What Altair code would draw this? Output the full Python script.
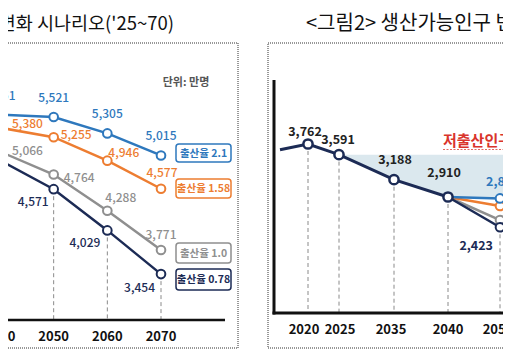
import altair as alt
import pandas as pd

# ---------------- data (만명) ----------------
# left panel: total population scenarios
left_years = [2040, 2050, 2060, 2070]
left_tfr_21 = [5551, 5521, 5305, 5015]
left_tfr_158 = [5380, 5255, 4946, 4577]
left_tfr_10 = [5066, 4764, 4288, 3771]
left_tfr_078 = [4950, 4571, 4029, 3454]
left_tick_years = [2040, 2050, 2060, 2070]

# right panel: working-age population
right_main_years = [2015, 2020, 2025, 2035, 2040]
right_main_values = [3670, 3762, 3591, 3188, 2910]
right_marker_years = [2020, 2025, 2035, 2040]
right_branch_years = [2040, 2050, 2060]
right_tfr_21 = [2910, 2887, 2870]
right_tfr_158 = [2910, 2765, 2580]
right_tfr_10 = [2910, 2540, 2000]
right_tfr_078 = [2910, 2423, 1870]
right_tick_years = [2020, 2025, 2035, 2040, 2050]
gap_base_value = 3591

series_names = ["출산율 2.1", "출산율 1.58", "출산율 1.0", "출산율 0.78"]
left_title = "〈그림1〉 총인구 변화 시나리오('25~70)"
right_title = "<그림2> 생산가능인구 변화 시나리오"
unit_text = "단위: 만명"
gap_text = "저출산인구감소"

# ---------------- styling ----------------
BLUE, ORANGE, GRAY, NAVY = "#2e78bd", "#ed7d31", "#8f8f8f", "#1c2b55"
colors = [BLUE, ORANGE, GRAY, NAVY]
FONT = "Noto Sans CJK KR"
M = 8  # page margin


def P(v):
    return v - M


LX = alt.Scale(domain=[2040, 2070], range=[P(0), P(161)], nice=False, zero=False)
LY = alt.Scale(domain=[3000, 6000], range=[P(308.6), P(80.6)], nice=False, zero=False)
RX = alt.Scale(domain=[2015, 2020, 2025, 2035, 2040, 2050, 2060],
               range=[P(280), P(308), P(339), P(394), P(448), P(500), P(552)],
               nice=False, zero=False)
RY = alt.Scale(domain=[1500, 4000], range=[P(284.7), P(129.2)], nice=False, zero=False)

one = pd.DataFrame({"a": [0]})
layers = []


def rect(x1, x2, y1, y2, **kw):
    return alt.Chart(one).mark_rect(**kw).encode(
        x=alt.value(P(x1)), x2=alt.value(P(x2)), y=alt.value(P(y1)), y2=alt.value(P(y2)))


def hrule(x1, x2, y, **kw):
    return alt.Chart(one).mark_rule(**kw).encode(
        x=alt.value(P(x1)), x2=alt.value(P(x2)), y=alt.value(P(y)))


def vrule(x, y1, y2, **kw):
    return alt.Chart(one).mark_rule(**kw).encode(
        x=alt.value(P(x)), y=alt.value(P(y1)), y2=alt.value(P(y2)))


def note(text, x, y, **kw):
    return alt.Chart(pd.DataFrame({"t": [text]})).mark_text(font=FONT, **kw).encode(
        x=alt.value(P(x)), y=alt.value(P(y)), text="t:N")


def series_df(years, values):
    return pd.DataFrame({"year": years, "value": values})


# dotted frames
layers.append(rect(0, 238, 43, 348, fillOpacity=0, stroke="#333", strokeWidth=1, strokeDash=[1, 1]))
layers.append(rect(268, 620, 43, 348, fillOpacity=0, stroke="#333", strokeWidth=1, strokeDash=[1, 1]))

# ---------------- right panel ----------------
gap_years = right_main_years[2:] + right_branch_years[1:]
gap_low = right_main_values[2:] + right_tfr_21[1:]
gap_df = pd.DataFrame({"year": gap_years, "low": gap_low, "top": [gap_base_value] * len(gap_years)})
layers.append(alt.Chart(gap_df).mark_area(color="#dbe8ee").encode(
    x=alt.X("year:Q", scale=RX, axis=None),
    y=alt.Y("top:Q", scale=RY, axis=None),
    y2="low:Q"))

# dashed guides (right)
r_guides = pd.DataFrame({
    "year": right_marker_years + [right_branch_years[1]],
    "value": [right_main_values[right_main_years.index(y)] for y in right_marker_years] + [right_tfr_078[1]],
})
layers.append(alt.Chart(r_guides).mark_rule(color="#8a8a8a", strokeDash=[4, 3], strokeWidth=1).encode(
    x=alt.X("year:Q", scale=RX, axis=None),
    y=alt.Y("value:Q", scale=RY, axis=None),
    y2=alt.value(P(313))))

# right axes
layers.append(vrule(274, 80, 314.5, color="#111", strokeWidth=3))
layers.append(hrule(272.5, 620, 313, color="#111", strokeWidth=3))

# branches (right)
for vals, c in zip([right_tfr_10, right_tfr_158, right_tfr_21, right_tfr_078], [GRAY, ORANGE, BLUE, NAVY]):
    d = series_df(right_branch_years, vals)
    layers.append(alt.Chart(d).mark_line(color=c, strokeWidth=2.5).encode(
        x=alt.X("year:Q", scale=RX, axis=None), y=alt.Y("value:Q", scale=RY, axis=None)))
    layers.append(alt.Chart(d.iloc[1:2]).mark_point(shape="circle", filled=True, fill="white", stroke=c,
                                                    strokeWidth=2, size=75, opacity=1).encode(
        x=alt.X("year:Q", scale=RX, axis=None), y=alt.Y("value:Q", scale=RY, axis=None)))

# main line (right)
main_df = series_df(right_main_years, right_main_values)
layers.append(alt.Chart(main_df).mark_line(color=NAVY, strokeWidth=3).encode(
    x=alt.X("year:Q", scale=RX, axis=None), y=alt.Y("value:Q", scale=RY, axis=None)))
layers.append(alt.Chart(main_df[main_df.year.isin(right_marker_years)]).mark_point(
    shape="circle", filled=True, fill="white", stroke=NAVY, strokeWidth=2.5, size=85, opacity=1).encode(
    x=alt.X("year:Q", scale=RX, axis=None), y=alt.Y("value:Q", scale=RY, axis=None)))

# right value labels
r_label_style = [(-3, -12, "center"), (-1, -15, "center"), (1, -20, "center"), (-4, -24, "center")]
for yr, (dx, dy, al) in zip(right_marker_years, r_label_style):
    d = main_df[main_df.year == yr]
    layers.append(alt.Chart(d).mark_text(font=FONT, fontSize=12.5, fontWeight="bold", color="#222",
                                         dx=dx, dy=dy, align=al).encode(
        x=alt.X("year:Q", scale=RX, axis=None), y=alt.Y("value:Q", scale=RY, axis=None),
        text=alt.Text("value:Q", format=",")))
for vals, c, (dx, dy, al) in [(right_tfr_21, BLUE, (-14, -16, "left")), (right_tfr_078, NAVY, (-7, 19, "right"))]:
    d = series_df(right_branch_years, vals).iloc[1:2]
    layers.append(alt.Chart(d).mark_text(font=FONT, fontSize=12.5, fontWeight="bold", color=c,
                                         dx=dx, dy=dy, align=al).encode(
        x=alt.X("year:Q", scale=RX, axis=None), y=alt.Y("value:Q", scale=RY, axis=None),
        text=alt.Text("value:Q", format=",")))

# right tick labels
r_tick_dx = [-4, 1, -3, 0, -2]
for yr, dx in zip(right_tick_years, r_tick_dx):
    layers.append(alt.Chart(pd.DataFrame({"year": [yr]})).mark_text(
        font=FONT, fontSize=13, fontWeight="bold", color="#111", dx=dx).encode(
        x=alt.X("year:Q", scale=RX, axis=None), y=alt.value(P(330)), text="year:N"))

# gap annotation
layers.append(note(gap_text, 443, 141, fontSize=15, fontWeight="bold", color="#d9342b", align="left"))
layers.append(hrule(443, 520, 149.5, color="#e06a60", strokeWidth=1.2, strokeDash=[2, 1.5]))

# ---------------- left panel ----------------
left_sets = [left_tfr_21, left_tfr_158, left_tfr_10, left_tfr_078]

# dashed guides (left) from the lowest series
layers.append(alt.Chart(series_df(left_years, left_tfr_078)).mark_rule(
    color="#8a8a8a", strokeDash=[4, 3], strokeWidth=1).encode(
    x=alt.X("year:Q", scale=LX, axis=None), y=alt.Y("value:Q", scale=LY, axis=None),
    y2=alt.value(P(320))))

# left axis line
layers.append(hrule(0, 225, 320, color="#111", strokeWidth=2.5))

for vals, c in zip(left_sets, colors):
    d = series_df(left_years, vals)
    layers.append(alt.Chart(d).mark_line(color=c, strokeWidth=2.5).encode(
        x=alt.X("year:Q", scale=LX, axis=None), y=alt.Y("value:Q", scale=LY, axis=None)))
    layers.append(alt.Chart(d).mark_point(shape="circle", filled=True, fill="white", stroke=c,
                                          strokeWidth=2, size=75, opacity=1).encode(
        x=alt.X("year:Q", scale=LX, axis=None), y=alt.Y("value:Q", scale=LY, axis=None)))

left_label_style = [
    [(0, -19, "center")] * 4,
    [(12, -4, "left"), (7, -2, "left"), (1, -8, "left"), (1, -16, "center")],
    [(12, -1, "left"), (10, 3, "left"), (-2, -13, "left"), (0, -15, "center")],
    [(-6, 12, "right"), (-5, 13, "right"), (-7, 13, "right"), (-6, 14, "right")],
]
for vals, c, styles in zip(left_sets, colors, left_label_style):
    d = series_df(left_years, vals)
    for i, (dx, dy, al) in enumerate(styles):
        layers.append(alt.Chart(d.iloc[i:i + 1]).mark_text(
            font=FONT, fontSize=12, fontWeight=500, color=c, dx=dx, dy=dy, align=al).encode(
            x=alt.X("year:Q", scale=LX, axis=None), y=alt.Y("value:Q", scale=LY, axis=None),
            text=alt.Text("value:Q", format=",")))

# left tick labels
layers.append(alt.Chart(pd.DataFrame({"year": left_tick_years})).mark_text(
    font=FONT, fontSize=13, fontWeight="bold", color="#111").encode(
    x=alt.X("year:Q", scale=LX, axis=None), y=alt.value(P(337)), text="year:N"))

# scenario tags
tag_boxes = [(144, 162), (179, 198), (243, 263), (269, 290)]
for name, c, (y1, y2) in zip(series_names, colors, tag_boxes):
    layers.append(rect(176, 231, y1, y2, fill="white", stroke=c, strokeWidth=1.5, cornerRadius=3))
    layers.append(note(name, 203.5, (y1 + y2) / 2 + 0.5, fontSize=10.5, fontWeight="bold", color=c,
                       align="center", baseline="middle"))

layers.append(note(unit_text, 186, 83, fontSize=11, fontWeight="bold", color="#555",
                   align="center", baseline="middle"))

# titles
layers.append(note(left_title, 174, 24, fontSize=18.5, color="#111", align="right", baseline="middle"))
layers.append(note(right_title, 306, 24, fontSize=20, color="#111", align="left", baseline="middle"))

chart = alt.layer(*layers).resolve_scale(x="independent", y="independent").properties(
    width=495, height=344, autosize=alt.AutoSizeParams(type="none"), padding=0
).configure_view(stroke=None)

chart.save("out.html", embed_options={"renderer": "svg", "actions": False})
